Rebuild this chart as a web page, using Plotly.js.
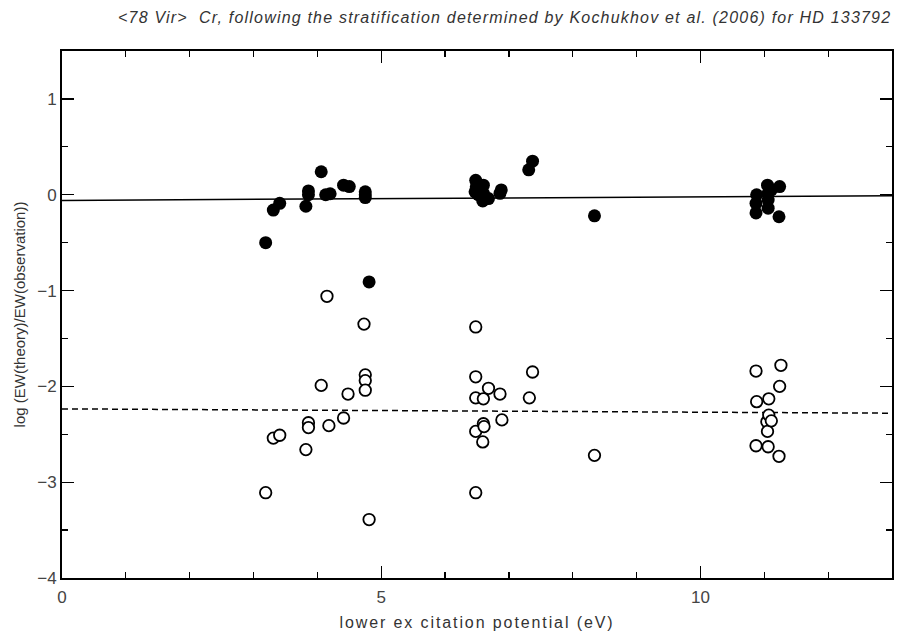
<!DOCTYPE html>
<html>
<head>
<meta charset="utf-8">
<script src="https://cdn.plot.ly/plotly-3.0.1.min.js"></script>
<style>
html,body{margin:0;padding:0;background:#fff;overflow:hidden;}
#chart{width:907px;height:637px;}
#chart .gtitle{letter-spacing:1.2px;}
#chart .xtitle{letter-spacing:1.9px;}
</style>
</head>
<body>
<div id="chart"></div>
<script>
// Filled circles: stratified model
var stratX = [3.19, 3.31, 3.41, 3.82, 3.86, 3.86, 4.06, 4.13, 4.20, 4.41, 4.50, 4.75, 4.75, 4.75, 4.81,
              6.47, 6.48, 6.49, 6.52, 6.59, 6.60, 6.60, 6.68, 6.86, 6.88, 7.31, 7.37, 8.34,
              10.87, 10.87, 10.88, 11.05, 11.06, 11.06, 11.06, 11.11, 11.23, 11.24];
var stratY = [-0.50, -0.16, -0.09, -0.12, 0.00, 0.04, 0.24, 0.00, 0.01, 0.10, 0.085, 0.03, 0.00, -0.03, -0.91,
              0.03, 0.15, 0.085, 0.00, -0.065, 0.10, 0.015, -0.04, 0.015, 0.05, 0.26, 0.35, -0.22,
              -0.09, -0.19, 0.00, 0.10, 0.015, -0.055, -0.14, 0.05, -0.23, 0.085];
// Open circles: homogeneous model
var homX = [3.19, 3.31, 3.41, 3.82, 3.86, 3.86, 4.06, 4.15, 4.18, 4.41, 4.48, 4.73, 4.75, 4.75, 4.75, 4.81,
            6.48, 6.48, 6.48, 6.48, 6.48, 6.59, 6.60, 6.60, 6.61, 6.68, 6.86, 6.89, 7.32, 7.37, 8.34,
            10.87, 10.87, 10.88, 11.04, 11.05, 11.06, 11.07, 11.07, 11.11, 11.23, 11.24, 11.26];
var homY = [-3.11, -2.54, -2.51, -2.66, -2.38, -2.43, -1.99, -1.06, -2.41, -2.33, -2.08, -1.35, -1.88, -1.94, -2.04, -3.39,
            -1.38, -1.90, -2.12, -2.47, -3.11, -2.58, -2.13, -2.39, -2.42, -2.02, -2.08, -2.35, -2.12, -1.85, -2.72,
            -1.84, -2.62, -2.16, -2.37, -2.47, -2.63, -2.13, -2.30, -2.36, -2.73, -2.00, -1.78];
// Linear fits
var fitX = [0, 13];
var stratFitY = [-0.06, -0.01];
var homFitY = [-2.235, -2.28];

var titleText = '&lt;78 Vir&gt;  Cr, following the stratification determined by Kochukhov et al. (2006) for HD 133792';
var xTitle = 'lower ex citation potential (eV)';
var yTitle = 'log (EW(theory)/EW(observation))';

var traces = [
  {x: fitX, y: stratFitY, mode: 'lines', line: {color: '#000', width: 1.5}, hoverinfo: 'skip'},
  {x: fitX, y: homFitY, mode: 'lines', line: {color: '#000', width: 1.5, dash: '6px,4px'}, hoverinfo: 'skip'},
  {x: stratX, y: stratY, mode: 'markers', marker: {symbol: 'circle', size: 13, color: '#000', line: {width: 0}}},
  {x: homX, y: homY, mode: 'markers', marker: {symbol: 'circle', size: 11.5, color: '#fff', line: {color: '#000', width: 1.8}}}
];

var tickFont = {family: 'Liberation Sans, Arial, sans-serif', size: 17, color: '#444'};
var layout = {
  width: 907, height: 637,
  margin: {l: 62, r: 15, t: 51, b: 59, pad: 0},
  paper_bgcolor: '#fff', plot_bgcolor: '#fff',
  showlegend: false,
  title: {text: titleText, x: 118/907, xanchor: 'left', xref: 'container', y: 1 - 17/637, yref: 'container', yanchor: 'middle',
          font: {family: 'Liberation Sans, Arial, sans-serif', size: 16, color: '#333', style: 'italic'}},
  xaxis: {
    range: [0, 13], dtick: 5, tick0: 0, ticks: 'inside', ticklen: 12, tickwidth: 1.2, tickcolor: '#000',
    showline: true, linecolor: '#000', linewidth: 2, mirror: 'ticks', showgrid: false, zeroline: false,
    tickfont: tickFont, ticklabelstandoff: 3,
    minor: {dtick: 1, tick0: 0, ticks: 'inside', ticklen: 6, tickwidth: 1.2, tickcolor: '#000', showgrid: false},
    title: {text: xTitle, font: {family: 'Liberation Sans, Arial, sans-serif', size: 16, color: '#333'}, standoff: 10}
  },
  yaxis: {
    range: [-4, 1.5], dtick: 1, tick0: 0, ticks: 'inside', ticklen: 12, tickwidth: 1.2, tickcolor: '#000',
    showline: true, linecolor: '#000', linewidth: 2, mirror: 'ticks', showgrid: false, zeroline: false,
    tickfont: tickFont, tickformat: 'd',
    minor: {dtick: 0.5, tick0: 0, ticks: 'inside', ticklen: 6, tickwidth: 1.2, tickcolor: '#000', showgrid: false},
    title: {text: yTitle, font: {family: 'Liberation Sans, Arial, sans-serif', size: 15, color: '#333'}, standoff: 8}
  }
};

Plotly.newPlot('chart', traces, layout, {staticPlot: true, displayModeBar: false});
</script>
</body>
</html>
